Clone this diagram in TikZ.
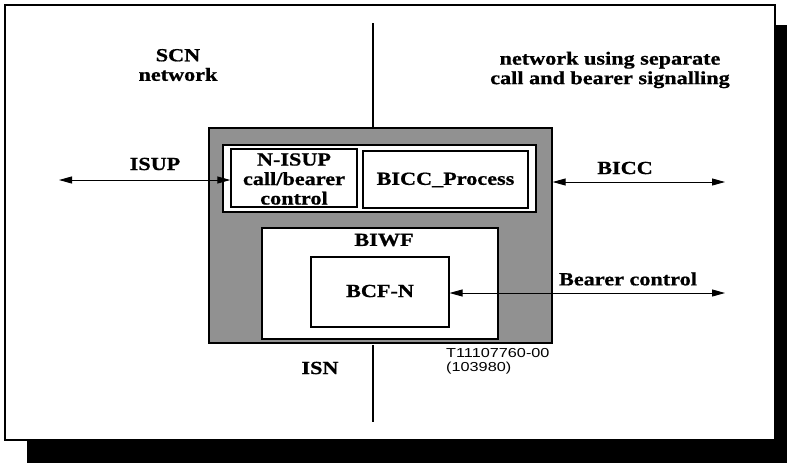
\documentclass[tikz,border=0pt]{standalone}
\usepackage{fontspec}
\setmainfont{Liberation Serif}
\newfontfamily\tb{Liberation Serif}[UprightFont=*-Bold, FakeStretch=1.2, FakeBold=0.8]
\newfontfamily\tsans{Liberation Sans}[FakeStretch=1.25]
\usetikzlibrary{arrows.meta}
\definecolor{dither}{RGB}{145,145,145}
\begin{document}
\begin{tikzpicture}[x=1pt,y=-1pt,
  lbl/.style={font=\tb\fontsize{18.5}{19.5}\selectfont, inner sep=0pt, align=center},
  box/.style={draw=black, line width=1.3pt, fill=white, inner sep=0pt},
  conn/.style={line width=0.9pt, {Triangle[length=13pt,width=7pt]}-{Triangle[length=13pt,width=7pt]}},
  divider/.style={line width=1.3pt}
]
\useasboundingbox (0,0) rectangle (787,464);
% shadow and frame
\fill[black] (27,25) rectangle (787,463);
\draw[fill=white, line width=1.5pt] (5,5) rectangle (775,440);

% main gray box
\node[box, fill=dither, minimum width=343pt, minimum height=215pt] (isn) at (380.5,235.5) {};
\node[box, minimum width=313pt, minimum height=67pt] (top) at (379.5,178.5) {};
\node[box, minimum width=126pt, minimum height=58pt] (nisup) at (294,178) {};
\node[box, line width=2.6pt, minimum width=165pt, minimum height=57pt] (bicc) at (445.5,179.5) {};
\node[box, minimum width=236pt, minimum height=111pt] (biwf) at (380,283.5) {};
\node[box, line width=1.1pt, minimum width=138pt, minimum height=70pt] (bcf) at (380,292) {};

% texts inside
\node[lbl] (tnisup) at (294,179) {N-ISUP\\call/bearer\\control};
\node[lbl] (tbicc) at (445.5,180) {BICC\_Process};
\node[lbl] (tbiwf) at (384,240) {BIWF};
\node[lbl] (tbcf) at (380,291) {BCF-N};

% divider
\coordinate (vtop) at (373,23);
\coordinate (vbot) at (373,422);
\draw[divider] (vtop) -- (vtop |- isn.north);
\draw[divider] (373,345) -- (vbot);

% region labels
\node[lbl] (scn) at (178,65) {SCN\\network};
\node[lbl] (sep) at (610,70) {network using separate\\call and bearer signalling};
\node[lbl] (isnlbl) at (320,368) {ISN};
\node[font=\tsans\fontsize{13}{13.5}\selectfont, anchor=west, inner sep=0pt, align=left] (ref) at (446,361.5) {T11107760-00\\(103980)};

% connectors
\coordinate (isupL) at (59,180);
\draw[conn] (isupL) -- (nisup.west |- isupL);
\node[lbl] (isup) at (155,164) {ISUP};

\coordinate (biccR) at (725,182);
\draw[conn] (isn.east |- biccR) -- (biccR);
\node[lbl] (biccl) at (625,168) {BICC};

\coordinate (bcR) at (725,293);
\draw[conn] (bcf.east |- bcR) -- (bcR);
\node[lbl] (bcl) at (628,279) {Bearer control};
\end{tikzpicture}
\end{document}
